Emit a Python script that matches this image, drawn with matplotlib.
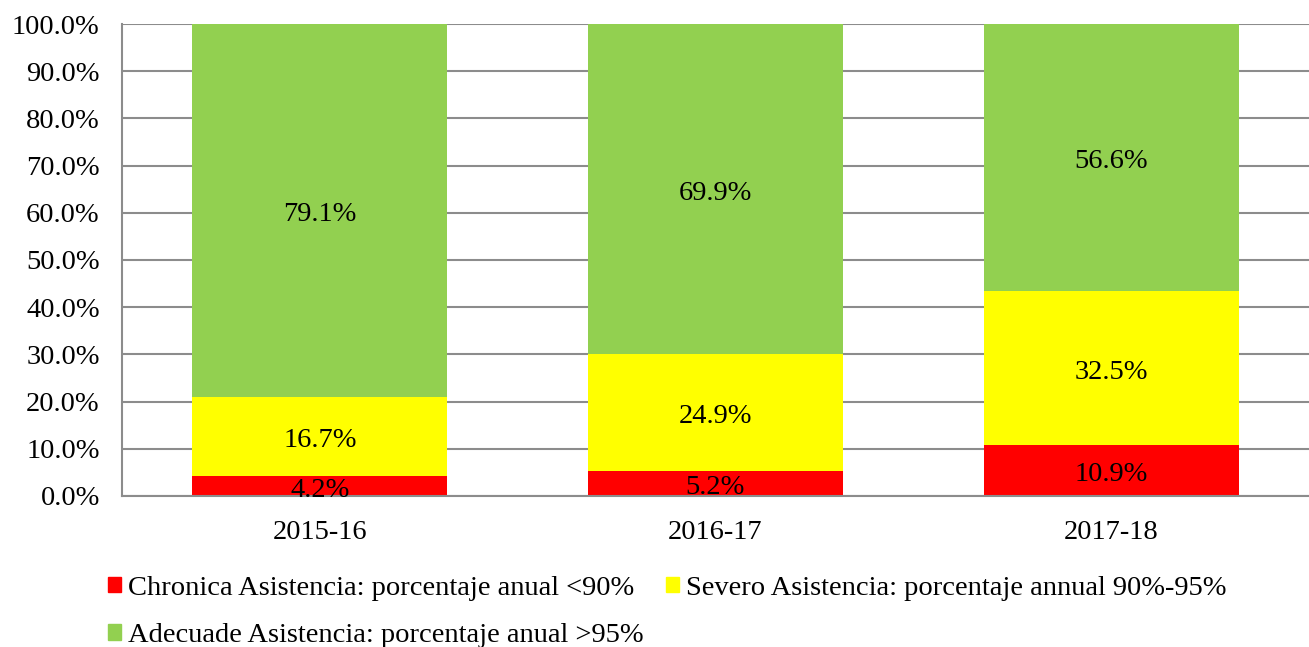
import matplotlib.pyplot as plt
from matplotlib.patches import Patch
import numpy as np

years = ["2015-16", "2016-17", "2017-18"]
chronica = [4.2, 5.2, 10.9]
severo = [16.7, 24.9, 32.5]
adecuade = [79.1, 69.9, 56.6]

labels = [
    "Chronica Asistencia: porcentaje anual <90%",
    "Severo Asistencia: porcentaje annual 90%-95%",
    "Adecuade Asistencia: porcentaje anual >95%",
]
colors = ["#FF0000", "#FFFF00", "#92D050"]

plt.rcParams["font.family"] = ["Liberation Serif", "DejaVu Serif"]
fs = 20.5

fig = plt.figure(figsize=(13.09, 6.47), dpi=100)
ax = fig.add_axes([0.0932, 0.2334, 0.9068, 0.7295])

x = np.arange(len(years))
width = 0.645
bottom = np.zeros(len(years))
for vals, col in zip([chronica, severo, adecuade], colors):
    vals = np.array(vals)
    ax.bar(x, vals, width, bottom=bottom, color=col, zorder=2)
    for xi, b, v in zip(x, bottom, vals):
        ax.annotate(f"{v:.1f}%", (xi, b + v / 2), xytext=(0, -3),
                    textcoords="offset points", ha="center", va="center",
                    fontsize=fs, zorder=3)
    bottom += vals

ax.set_xlim(-0.5, 2.5)
ax.set_ylim(0, 100)
ax.set_yticks(np.arange(0, 101, 10))
ax.set_yticklabels([f"{v:.1f}%" for v in range(0, 101, 10)], fontsize=fs)
ax.set_xticks(x)
ax.set_xticklabels(years, fontsize=fs)
ax.tick_params(axis="both", length=0)
ax.tick_params(axis="y", pad=16)
ax.tick_params(axis="x", pad=17)
ax.yaxis.grid(True, color="#8c8c8c", linewidth=1.5, zorder=1)
ax.set_axisbelow(True)
for s in ["top", "right"]:
    ax.spines[s].set_visible(False)
ax.spines["left"].set_color("#8c8c8c")
ax.spines["left"].set_linewidth(1.5)
ax.spines["bottom"].set_color("#8c8c8c")
ax.spines["bottom"].set_linewidth(1.5)

handles = [Patch(color=c) for c in colors]
order = [0, 2, 1]
fig.legend([handles[i] for i in order], [labels[i] for i in order],
           ncol=2, loc="upper left", bbox_to_anchor=(0.0825, 0.110),
           frameon=False, fontsize=fs, handlelength=0.45, handleheight=0.45,
           handletextpad=0.25, columnspacing=0.8, labelspacing=0.78,
           borderpad=0, borderaxespad=0)

fig.savefig("out.png", dpi=100)
